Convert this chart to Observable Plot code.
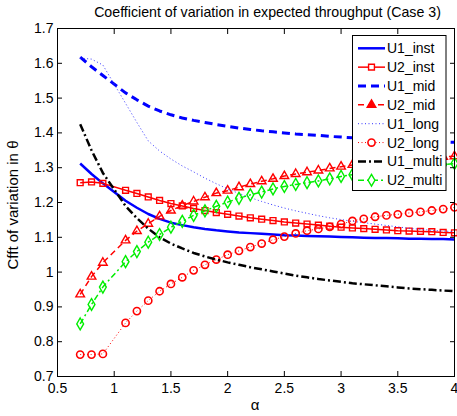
<!DOCTYPE html>
<html><head><meta charset="utf-8">
<script src="https://cdn.jsdelivr.net/npm/d3@7"></script>
<script src="https://cdn.jsdelivr.net/npm/@observablehq/plot@0.6"></script>
<style>
html,body{margin:0;padding:0;background:#fff;overflow:hidden;}
#wrap{position:relative;width:457px;height:416px;font-family:"Liberation Sans",Arial,sans-serif;color:#000;}
#title{position:absolute;left:78px;width:379px;top:4px;text-align:center;font-size:14.2px;white-space:nowrap;}
#ylab{position:absolute;left:12px;top:205px;transform:translate(-50%,-50%) rotate(-90deg);font-size:15px;white-space:nowrap;}
#xlab{position:absolute;left:255px;top:396px;transform:translateX(-50%);font-size:15px;}
#legend{position:absolute;left:0;top:0;}
</style></head><body>
<div id="wrap">
<div id="chart"></div>
<div id="title">Coefficient of variation in expected throughput (Case 3)</div>
<div id="ylab">Cfft of variation in θ</div>
<div id="xlab">α</div>
</div>
<script>
const alpha = [0.7,0.8,0.9,1.1,1.2,1.3,1.4,1.5,1.6,1.7,1.8,1.9,2.0,2.1,2.2,2.3,2.4,2.5,2.6,2.7,2.8,2.9,3.0,3.1,3.2,3.3,3.4,3.5,3.6,3.7,3.8,3.9,4.0];
const U1_inst = [1.312,1.282,1.255,1.205,1.185,1.167,1.153,1.142,1.135,1.129,1.124,1.12,1.117,1.114,1.112,1.110,1.108,1.106,1.105,1.104,1.103,1.102,1.101,1.100,1.099,1.098,1.098,1.097,1.096,1.096,1.095,1.095,1.094];
const U2_inst = [1.257,1.259,1.255,1.235,1.226,1.216,1.206,1.197,1.19,1.183,1.177,1.171,1.166,1.161,1.156,1.152,1.148,1.144,1.141,1.138,1.135,1.132,1.129,1.127,1.125,1.123,1.121,1.119,1.118,1.117,1.116,1.114,1.113];
const U1_mid = [1.618,1.59,1.565,1.515,1.495,1.477,1.463,1.452,1.443,1.436,1.43,1.424,1.419,1.414,1.41,1.406,1.403,1.4,1.397,1.395,1.393,1.39,1.388,1.386,1.384,1.382,1.38,1.378,1.377,1.376,1.375,1.374,1.373];
const U2_mid = [0.936,0.987,1.027,1.091,1.118,1.139,1.16,1.177,1.191,1.203,1.215,1.227,1.234,1.244,1.253,1.261,1.268,1.276,1.282,1.287,1.292,1.298,1.303,1.308,1.312,1.315,1.318,1.321,1.324,1.327,1.329,1.331,1.333];
const U1_long = [1.615,1.612,1.595,1.485,1.43,1.377,1.348,1.325,1.305,1.288,1.27,1.254,1.239,1.226,1.214,1.203,1.193,1.184,1.176,1.169,1.162,1.156,1.151,1.146,1.142,1.138,1.134,1.13,1.126,1.123,1.12,1.118,1.116];
const U2_long = [0.763,0.763,0.765,0.854,0.888,0.918,0.945,0.966,0.985,1.005,1.021,1.036,1.05,1.061,1.072,1.082,1.093,1.102,1.111,1.119,1.124,1.13,1.138,1.147,1.153,1.159,1.163,1.166,1.17,1.173,1.177,1.181,1.186];
const U1_multi = [1.425,1.35,1.285,1.19,1.155,1.125,1.1,1.082,1.068,1.055,1.045,1.036,1.028,1.021,1.014,1.008,1.002,0.996,0.99,0.985,0.98,0.976,0.972,0.968,0.965,0.962,0.959,0.956,0.953,0.951,0.949,0.947,0.945];
const U2_multi = [0.851,0.907,0.957,1.03,1.059,1.086,1.108,1.129,1.146,1.163,1.176,1.189,1.201,1.212,1.222,1.23,1.239,1.246,1.252,1.257,1.262,1.268,1.275,1.28,1.284,1.288,1.292,1.296,1.3,1.304,1.307,1.309,1.312];
const xTicks = [0.5,1,1.5,2,2.5,3,3.5,4];
const yTicks = [0.7,0.8,0.9,1,1.1,1.2,1.3,1.4,1.5,1.6,1.7];
const seriesNames = ["U1_inst","U2_inst","U1_mid","U2_mid","U1_long","U2_long","U1_multi","U2_multi"];

const values = {U1_inst,U2_inst,U1_mid,U2_mid,U1_long,U2_long,U1_multi,U2_multi};
const styles = {
  U1_inst:{stroke:"#0000ff",sw:2.5,dash:null,sym:null},
  U2_inst:{stroke:"#ff0000",sw:1.5,dash:null,sym:"square",r:3.3},
  U1_mid:{stroke:"#0000ff",sw:3,dash:"8,5",sym:null},
  U2_mid:{stroke:"#ff0000",sw:1.5,dash:"6,4",sym:"triangle",r:3.2},
  U1_long:{stroke:"#3333ff",sw:1,dash:"1,2.5",sym:null},
  U2_long:{stroke:"#ff0000",sw:1,dash:"1,2.5",sym:"circle",r:3.6,ms:1.6},
  U1_multi:{stroke:"#000000",sw:2.5,dash:"8,3,2,3",sym:null},
  U2_multi:{stroke:"#00ee00",sw:1.5,dash:"6,3,2,3",sym:"diamond",r:3.6}
};
const fmt = d => String(+d.toFixed(1));

const marks = [];
for (const name of seriesNames) {
  const st = styles[name];
  const data = alpha.map((a,i) => ({x:a, y:values[name][i]}));
  marks.push(Plot.line(data, {x:"x", y:"y", stroke:st.stroke, strokeWidth:st.sw, strokeDasharray:st.dash, strokeLinecap:"butt"}));
  if (st.sym) marks.push(Plot.dot(data, {x:"x", y:"y", symbol:st.sym, r:st.r, stroke:st.stroke, strokeWidth:st.ms||1.4, fill:"none"}));
}

const plot = Plot.plot({
  width:457, height:416,
  marginLeft:57, marginRight:3, marginTop:28, marginBottom:40,
  style:{fontFamily:"Liberation Sans, Arial, sans-serif", fontSize:"14px", color:"#000", background:"transparent"},
  x:{domain:[0.5,4]},
  y:{domain:[0.7,1.7]},
  marks:[
    ...marks,
    Plot.frame({stroke:"#000", strokeWidth:1}),
    Plot.axisX(xTicks, {anchor:"bottom", tickSize:-5, tickPadding:12, tickFormat:fmt, label:null, fontSize:14}),
    Plot.axisX(xTicks, {anchor:"top", tickSize:-5, tickFormat:()=>"", label:null}),
    Plot.axisY(yTicks, {anchor:"left", tickSize:-5, tickPadding:9, tickFormat:fmt, label:null, fontSize:14}),
    Plot.axisY(yTicks, {anchor:"right", tickSize:-5, tickFormat:()=>"", label:null})
  ]
});
document.getElementById("chart").appendChild(plot);

// legend
const lg = d3.select("#wrap").append("svg").attr("id","legend").attr("width",457).attr("height",416);
lg.append("rect").attr("x",352.5).attr("y",35.5).attr("width",93.5).attr("height",155).attr("fill","#fff").attr("stroke","#000");
const symMap = {square:d3.symbolSquare, triangle:d3.symbolTriangle, circle:d3.symbolCircle, diamond:d3.symbolDiamond};
seriesNames.forEach((name,i) => {
  const st = styles[name];
  const y = 48.3 + i*18.85;
  lg.append("line").attr("x1",358).attr("x2",385).attr("y1",y).attr("y2",y)
    .attr("stroke",st.stroke).attr("stroke-width",st.sw).attr("stroke-dasharray",st.dash);
  if (st.sym) {
    const area = Math.PI*st.r*st.r;
    lg.append("path").attr("d", d3.symbol(symMap[st.sym], area)())
      .attr("transform",`translate(371.5,${y})`)
      .attr("fill", st.sym==="triangle" ? st.stroke : "#fff").attr("stroke",st.stroke).attr("stroke-width",st.ms||1.4);
  }
  lg.append("text").attr("x",387).attr("y",y+5).attr("font-size",14).attr("font-family","Liberation Sans, Arial, sans-serif").text(name);
});
</script>
</body></html>
